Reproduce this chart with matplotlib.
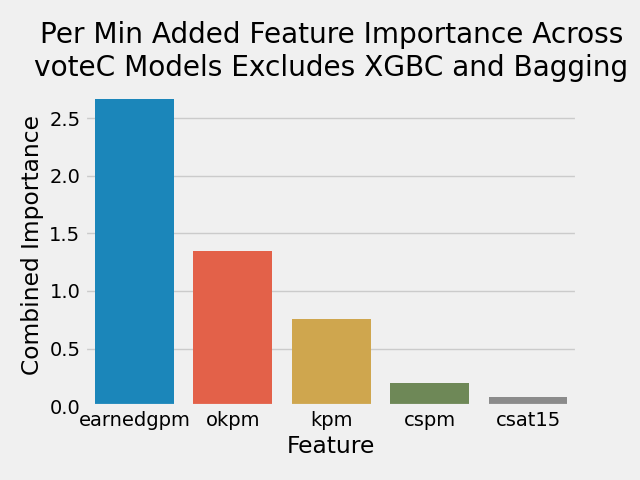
import matplotlib
matplotlib.use("Agg")
import matplotlib.pyplot as plt
import seaborn as sns

# Feature importance values
features = ["earnedgpm", "okpm", "kpm", "cspm", "csat15"]
importance = [2.665, 1.345, 0.755, 0.20, 0.078]

plt.style.use("fivethirtyeight")

base_colors = ["#008fd5", "#fc4f30", "#e5ae38", "#6d904f", "#8b8b8b"]
colors = [sns.desaturate(c, 0.75) for c in base_colors]

fig, ax = plt.subplots(figsize=(6.4, 4.8), dpi=100)
ax.bar(range(len(features)), importance, width=0.8, color=colors)
ax.set_xticks(range(len(features)))
ax.set_xticklabels(features)
ax.set_xlim(-0.5, len(features) - 0.5)
ax.xaxis.grid(False)
ax.set_xlabel("Feature")
ax.set_ylabel("Combined Importance")
ax.set_title("Per Min Added Feature Importance Across\nvoteC Models Excludes XGBC and Bagging")
fig.subplots_adjust(left=0.133, right=0.902, bottom=0.154, top=0.825)
plt.savefig("out.png")
